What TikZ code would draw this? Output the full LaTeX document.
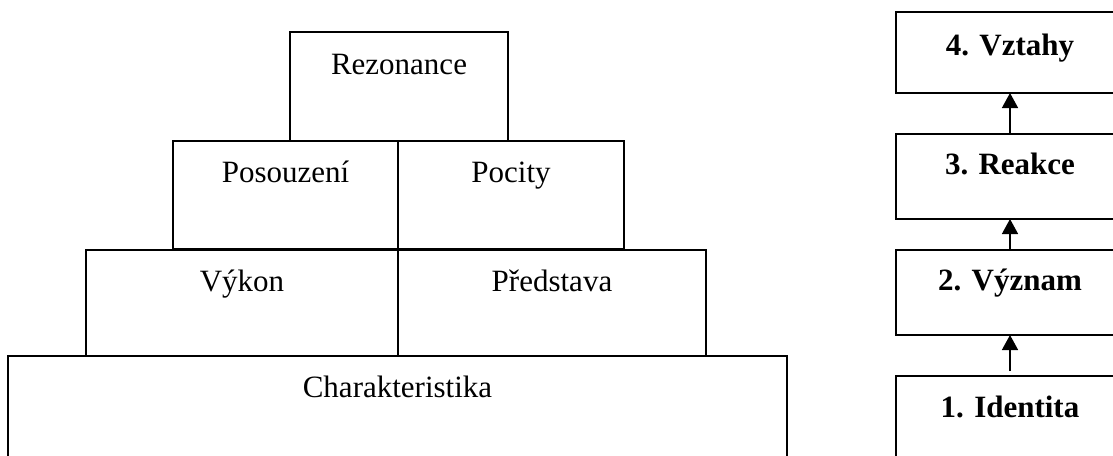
\documentclass[tikz,border=0pt]{standalone}
\usepackage{fontspec}
\setmainfont{Liberation Serif}
\usetikzlibrary{arrows.meta}
\begin{document}
\begin{tikzpicture}[x=1pt,y=-1pt,
  box/.style={draw,line width=1.5pt,anchor=north west,inner sep=0pt,outer sep=0pt},
  lbl/.style={anchor=base,inner sep=0pt,font=\fontsize{31pt}{37pt}\selectfont},
  blbl/.style={lbl,font=\fontsize{31pt}{37pt}\selectfont\bfseries},
  up/.style={-{Triangle[width=16pt,length=15pt]},line width=1.5pt}]
\path[use as bounding box,clip] (0,0) rectangle (1113,455);
\fill[white] (0,0) rectangle (1113,455);

% pyramid
\node[box,minimum width=218pt,minimum height=109pt] (rez) at (290,32) {};
\node[box,minimum width=225pt,minimum height=108pt] (pos) at (173,141) {};
\node[box,minimum width=226pt,minimum height=108pt] (poc) at (398,141) {};
\node[box,minimum width=312pt,minimum height=106pt] (vyk) at (86,250) {};
\node[box,minimum width=308pt,minimum height=106pt] (pre) at (398,250) {};
\node[box,minimum width=779pt,minimum height=130pt] (cha) at (8,356) {};

\node[lbl] (trez) at ([yshift=-42pt]rez.north) {Rezonance};
\node[lbl] (tpos) at ([yshift=-41pt]pos.north) {Posouzení};
\node[lbl] (tpoc) at ([yshift=-41pt]poc.north) {Pocity};
\node[lbl] (tvyk) at ([yshift=-41pt]vyk.north) {Výkon};
\node[lbl] (tpre) at ([yshift=-41pt]pre.north) {Představa};
\node[lbl] (tcha) at ([yshift=-41pt]cha.north) {Charakteristika};

% levels
\node[box,minimum width=228pt,minimum height=81pt] (l4) at (896,12) {};
\node[box,minimum width=228pt,minimum height=85pt] (l3) at (896,134) {};
\node[box,minimum width=228pt,minimum height=85pt] (l2) at (896,250) {};
\node[box,minimum width=228pt,minimum height=110pt] (l1) at (896,376) {};

\node[blbl] (t4) at ([yshift=-43pt]l4.north) {4. Vztahy};
\node[blbl] (t3) at ([yshift=-40pt]l3.north) {3. Reakce};
\node[blbl] (t2) at ([yshift=-40pt]l2.north) {2. Význam};
\node[blbl] (t1) at ([yshift=-41pt]l1.north) {1. Identita};

\draw[up] (l3.north) -- (l4.south);
\draw[up] (l2.north) -- (l3.south);
\draw[up,shorten <=5pt] (l1.north) -- (l2.south);
\end{tikzpicture}
\end{document}
